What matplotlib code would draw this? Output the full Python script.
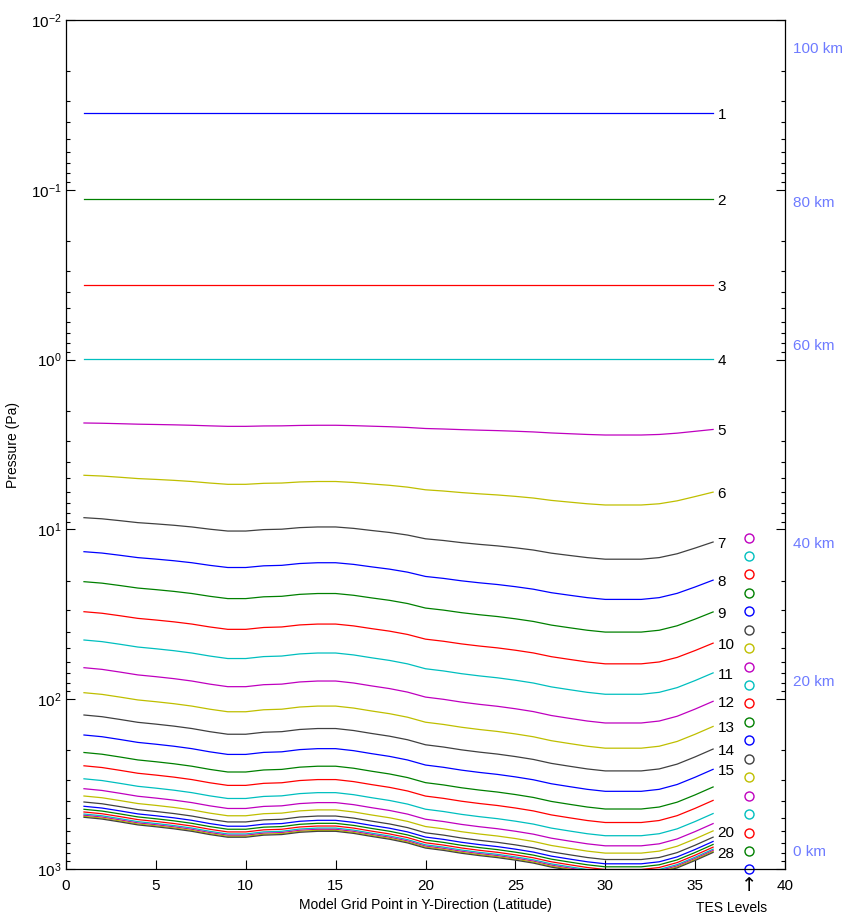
import numpy as np
import matplotlib
matplotlib.use('Agg')
import matplotlib.pyplot as plt
from matplotlib.ticker import LogLocator, NullFormatter, MultipleLocator
from matplotlib.transforms import blended_transform_factory, offset_copy

plt.rcParams['font.family'] = ['Liberation Sans', 'DejaVu Sans']
plt.rcParams['mathtext.fontset'] = 'custom'
plt.rcParams['mathtext.rm'] = 'Liberation Sans'
plt.rcParams['mathtext.it'] = 'Liberation Sans:italic'

# 模式网格点 (Y 方向)
grid_pts = np.arange(1, 37)

# 地面气压 (Pa), 每个网格点一个值, 从图上最底层读出
surf_p = [496, 508, 528, 550, 564, 580, 600, 627, 650, 650,
          632, 627, 608, 600, 600, 617, 643, 668, 702, 753,
          777, 808, 834, 857, 887, 923, 975, 1014, 1053, 1082,
          1082, 1082, 1053, 985, 891, 799]

# 混合坐标系数: p = a + b * ps  (第 1 层在最上面)
hyb_a = [0.0353, 0.1133, 0.364, 0.992, 2.008, 2.784, 3.071, 3.112, 3.454, 3.969,
         3.585, 3.588, 4.578, 4.956, 4.875, 5.15, 4.934, 4.415, 3.366, 3.716,
         0, 0, 0, 0, 0, 0, 0, 0]
hyb_b = [0, 0, 0, 0, 0.000714, 0.004065, 0.011006, 0.021004, 0.034003, 0.05355,
         0.083117, 0.12428, 0.17535, 0.23981, 0.31779, 0.40494, 0.48744, 0.58446, 0.67184, 0.7417,
         0.8127, 0.8613, 0.8972, 0.9306, 0.9565, 0.9734, 0.9867, 1.0]

# 标注编号的层
labeled_levels = [1, 2, 3, 4, 5, 6, 7, 8, 9, 10, 11, 12, 13, 14, 15, 20, 28]

# TES 标准气压层 (Pa), 从下往上
tes_pressure = [1005.7, 783.3, 610.0, 475.1, 370.0, 288.1, 224.4, 174.8, 136.1, 106.0,
                82.6, 64.3, 50.1, 39.0, 30.4, 23.7, 18.4, 14.4, 11.2]

# 右侧高度标注
km_labels = ['100 km', '80 km', '60 km', '40 km', '20 km', '0 km']
km_pressure = [0.0148, 0.1197, 0.832, 12.2, 79.3, 794]

line_colors = [(0, 0, 1), (0, 0.5, 0), (1, 0, 0), (0, 0.75, 0.75),
               (0.75, 0, 0.75), (0.75, 0.75, 0), (0.25, 0.25, 0.25)]
km_color = '#6e7bff'

ps = np.array(surf_p, dtype=float)
a = np.array(hyb_a)[:, None]
b = np.array(hyb_b)[:, None]
pres = a + b * ps[None, :]

fig = plt.figure(figsize=(8.46, 9.19), dpi=100)
ax = fig.add_axes([66 / 846, 1 - 869 / 919, (785 - 66) / 846, (869 - 20) / 919])

# 编号文字稍微往下移一点
lab_trans = offset_copy(ax.transData, fig=fig, x=0, y=-2, units='dots')

for k in range(pres.shape[0]):
    ax.plot(grid_pts, pres[k], color=line_colors[k % 7], lw=0.9)
    if (k + 1) in labeled_levels:
        ax.text(36.25, pres[k, -1], str(k + 1), fontsize=11, ha='left', va='center',
                transform=lab_trans)

# TES 层圆圈
for i, p in enumerate(tes_pressure):
    ax.plot(38, p, 'o', mfc='none', mec=line_colors[i % 7], ms=6.5, mew=1.0, clip_on=False)

for lab, p in zip(km_labels, km_pressure):
    ax.text(40.45, p, lab, color=km_color, fontsize=11, ha='left', va='center', clip_on=False)

ax.set_yscale('log')
ax.set_ylim(1000, 0.01)
ax.set_xlim(0, 40)
ax.xaxis.set_major_locator(MultipleLocator(5))
ax.yaxis.set_major_locator(LogLocator(base=10, numticks=10))
ax.yaxis.set_minor_locator(LogLocator(base=10, subs=np.arange(2, 10), numticks=20))
ax.yaxis.set_minor_formatter(NullFormatter())

ax.tick_params(axis='x', which='both', direction='in', length=6.5, width=0.8,
               top=False, labelsize=11, pad=7)
ax.tick_params(axis='y', which='major', direction='in', length=6.5, width=0.8,
               right=True, labelsize=11, pad=3)
ax.tick_params(axis='y', which='minor', direction='in', length=3.2, width=0.8, right=True)
for s in ax.spines.values():
    s.set_linewidth(0.9)

ax.set_xlabel('Model Grid Point in Y-Direction (Latitude)', fontsize=10, labelpad=4)
ax.set_ylabel('Pressure (Pa)', fontsize=10, labelpad=8)

trans = blended_transform_factory(ax.transData, ax.transAxes)
ax.text(38, -0.019, '\u2191', transform=trans, ha='center', va='center', fontsize=14,
        family=['DejaVu Sans'])
ax.text(37.05, -0.046, 'TES Levels', transform=trans, ha='center', va='center', fontsize=10)

fig.savefig('out.png', dpi=100)
